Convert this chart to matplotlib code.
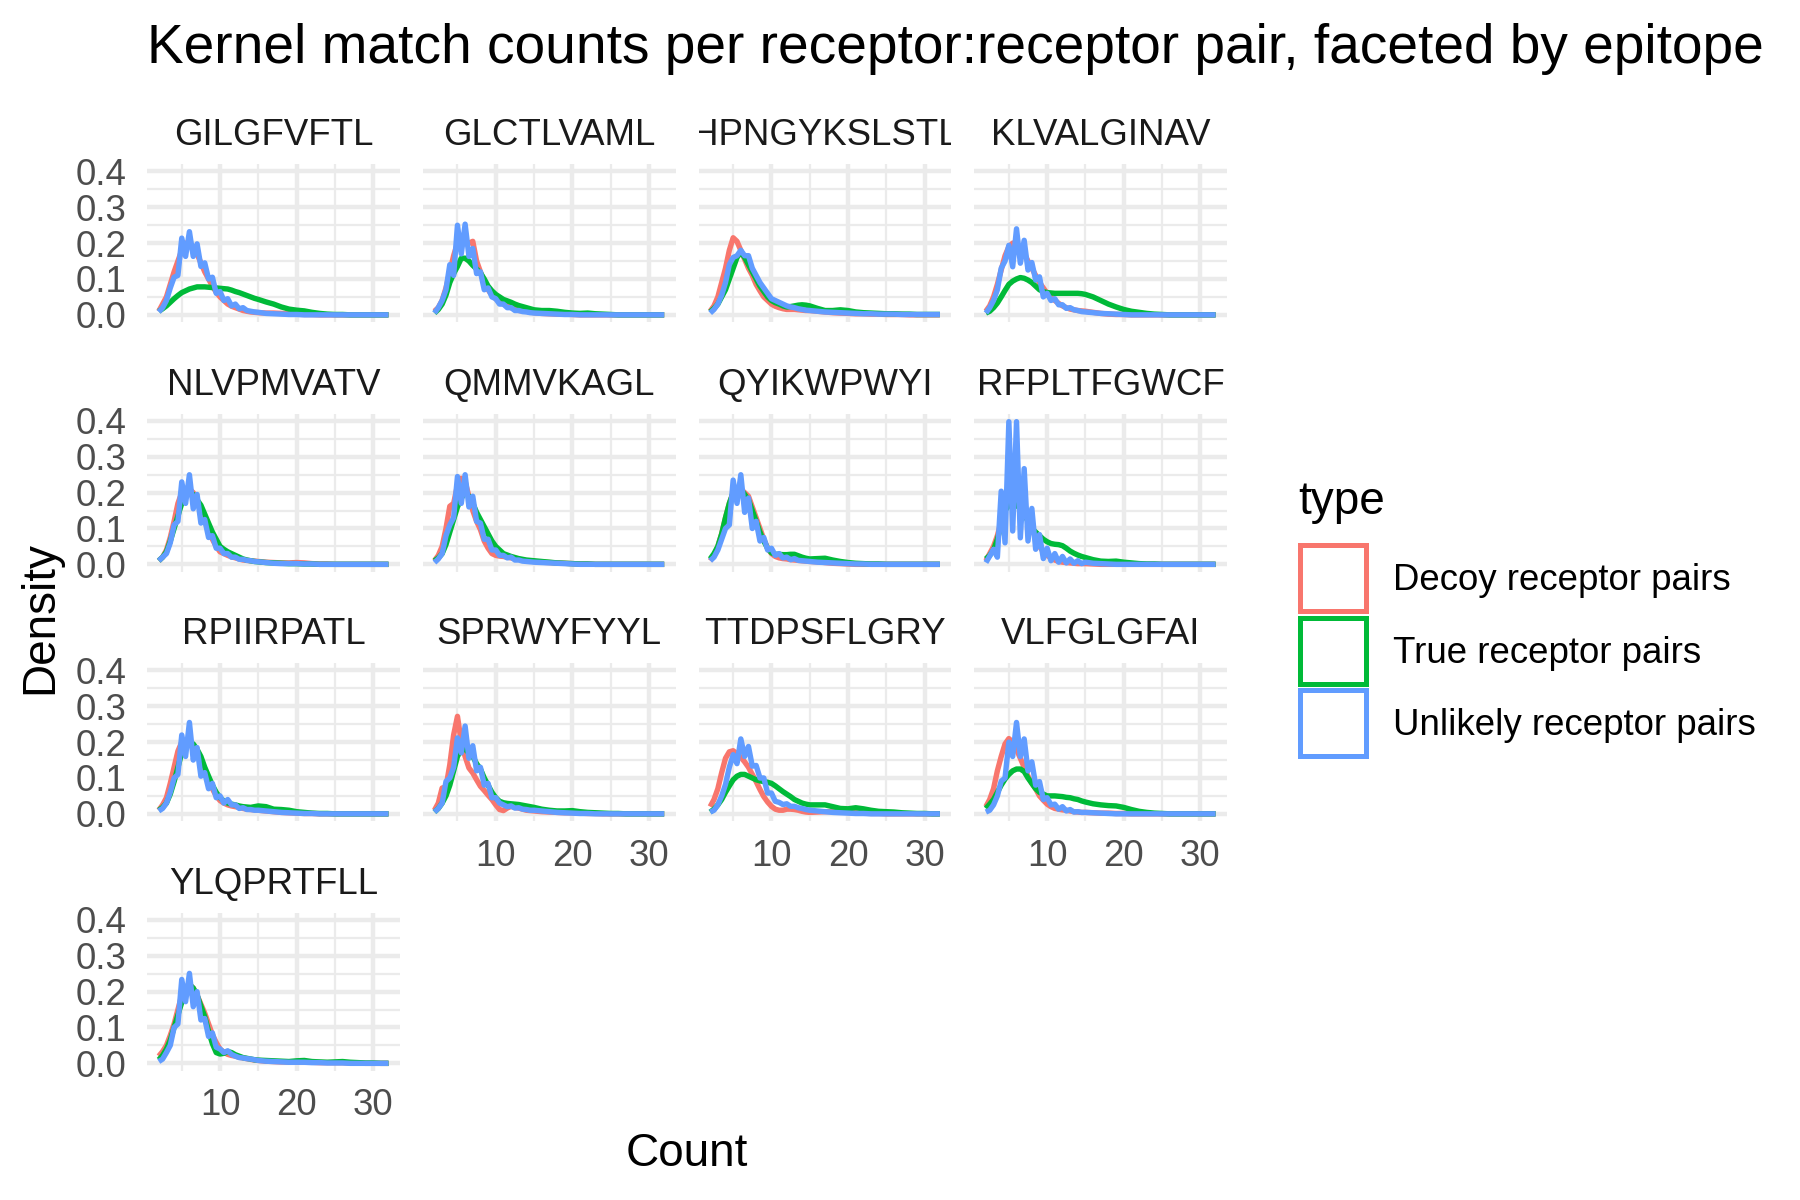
import matplotlib
matplotlib.use("Agg")
import matplotlib.pyplot as plt
from matplotlib.patches import Rectangle

plt.rcParams['font.family'] = ['Liberation Sans', 'DejaVu Sans']

# ---------------- data ----------------
EPITOPES = ["GILGFVFTL", "GLCTLVAML", "HPNGYKSLSTL", "KLVALGINAV",
            "NLVPMVATV", "QMMVKAGL", "QYIKWPWYI", "RFPLTFGWCF",
            "RPIIRPATL", "SPRWYFYYL", "TTDPSFLGRY", "VLFGLGFAI",
            "YLQPRTFLL"]
TYPES = ["Decoy receptor pairs", "True receptor pairs", "Unlikely receptor pairs"]
COLORS = ["#F8766D", "#00BA38", "#619CFF"]

COUNT_GRID = [2, 2.5, 3, 3.5, 4, 4.5, 5, 5.5, 6, 6.5, 7, 7.5, 8, 8.5, 9, 9.5,
              10, 10.5, 11, 11.5, 12, 12.5, 13, 13.5, 14, 14.5, 15,
              16, 17, 18, 19, 20, 21, 22, 23, 24, 25, 26, 27, 28, 29, 30, 31, 32]

DECOY = {
    "GILGFVFTL": [.01, .03, .05, .085, .12, .15, .18, .2, .2, .19, .17, .145, .12, .1, .08, .063, .05, .04, .03, .024, .02, .016, .012, .01, .008, .007, .006,
                  .005, .005, .004, .003, .002, .001, .001, 0, 0, 0, 0, 0, 0, 0, 0, 0, 0],
    "GLCTLVAML": [.01, .02, .04, .075, .12, .165, .2, .205, .2, .2, .205, .15, .12, .09, .07, .055, .045, .037, .03, .025, .02, .016, .012, .011, .01, .008, .006,
                  .004, .003, .002, .002, .001, 0, 0, 0, 0, 0, 0, 0, 0, 0, 0, 0, 0],
    "HPNGYKSLSTL": [.01, .025, .05, .09, .13, .18, .215, .205, .18, .155, .13, .11, .085, .067, .05, .04, .03, .024, .02, .017, .015, .015, .015, .014, .013, .012, .012,
                    .01, .008, .006, .005, .004, .003, .003, .002, .002, .001, .001, .001, 0, 0, 0, 0, 0],
    "KLVALGINAV": [.01, .025, .05, .085, .125, .165, .19, .2, .2, .185, .17, .15, .13, .11, .09, .075, .06, .05, .04, .032, .025, .02, .016, .014, .012, .011, .01,
                   .007, .004, .002, .001, .001, 0, 0, 0, 0, 0, 0, 0, 0, 0, 0, 0, 0],
    "NLVPMVATV": [.01, .02, .04, .075, .12, .17, .2, .21, .21, .2, .18, .15, .12, .095, .07, .05, .035, .03, .025, .021, .018, .015, .012, .011, .01, .009, .008,
                  .006, .005, .004, .004, .005, .004, .002, .001, .001, 0, 0, 0, 0, 0, 0, 0, 0],
    "QMMVKAGL": [.01, .025, .05, .1, .162, .17, .22, .24, .23, .19, .15, .12, .097, .065, .045, .03, .025, .023, .022, .02, .018, .016, .014, .012, .01, .009, .008,
                 .006, .005, .004, .003, .002, .001, .001, 0, 0, 0, 0, 0, 0, 0, 0, 0, 0],
    "QYIKWPWYI": [.01, .025, .05, .085, .13, .17, .2, .21, .21, .2, .19, .16, .13, .1, .07, .045, .03, .022, .018, .016, .015, .013, .012, .011, .01, .009, .008,
                  .007, .005, .003, .002, .001, 0, 0, 0, 0, 0, 0, 0, 0, 0, 0, 0, 0],
    "RFPLTFGWCF": [.01, .03, .05, .08, .12, .17, .2, .205, .2, .18, .16, .13, .1, .075, .05, .035, .025, .018, .012, .008, .006, .005, .004, .003, .002, .002, .002,
                   .001, 0, 0, 0, 0, 0, 0, 0, 0, 0, 0, 0, 0, 0, 0, 0, 0],
    "RPIIRPATL": [.01, .025, .045, .085, .13, .175, .2, .205, .2, .19, .17, .145, .12, .095, .07, .05, .037, .03, .025, .022, .02, .018, .015, .013, .012, .011, .01,
                  .008, .006, .004, .003, .002, .001, .001, 0, 0, 0, 0, 0, 0, 0, 0, 0, 0],
    "SPRWYFYYL": [.01, .03, .072, .075, .137, .22, .272, .2, .16, .128, .114, .095, .077, .065, .052, .04, .025, .012, .009, .016, .021, .018, .016, .013, .01, .009, .008,
                  .006, .005, .004, .003, .003, .002, .001, .001, 0, 0, 0, 0, 0, 0, 0, 0, 0],
    "TTDPSFLGRY": [.02, .04, .07, .115, .155, .173, .176, .168, .158, .145, .13, .11, .09, .068, .048, .033, .021, .013, .01, .01, .013, .013, .012, .01, .007, .005, .004,
                   .005, .006, .006, .005, .004, .003, .002, .001, .001, 0, 0, 0, 0, 0, 0, 0, 0],
    "VLFGLGFAI": [.02, .04, .07, .12, .16, .195, .21, .2, .18, .155, .13, .105, .085, .07, .05, .038, .027, .02, .015, .013, .011, .01, .008, .006, .005, .004, .004,
                  .003, .002, .002, .001, .001, 0, 0, 0, 0, 0, 0, 0, 0, 0, 0, 0, 0],
    "YLQPRTFLL": [.02, .033, .05, .078, .11, .15, .19, .21, .22, .21, .19, .165, .14, .11, .08, .058, .04, .031, .025, .022, .02, .017, .015, .013, .011, .009, .008,
                  .006, .005, .004, .004, .004, .004, .003, .002, .002, .002, .002, .001, .001, 0, 0, 0, 0],
}

TRUE = {
    "GILGFVFTL": [.01, .017, .025, .035, .045, .054, .062, .067, .072, .075, .078, .078, .078, .077, .076, .075, .074, .073, .072, .069, .065, .062, .058, .054, .05, .046, .043,
                  .036, .03, .022, .016, .013, .011, .007, .004, .002, .001, .001, 0, 0, 0, 0, 0, 0],
    "GLCTLVAML": [.005, .015, .03, .055, .09, .115, .135, .158, .158, .15, .138, .128, .117, .1, .08, .067, .057, .05, .043, .039, .035, .03, .026, .023, .02, .017, .014,
                  .012, .012, .01, .007, .005, .004, .005, .003, .002, .001, 0, 0, 0, 0, 0, 0, 0],
    "HPNGYKSLSTL": [.008, .018, .03, .05, .07, .1, .13, .16, .175, .16, .14, .12, .1, .08, .065, .05, .04, .034, .03, .025, .022, .023, .025, .027, .028, .027, .025,
                    .018, .012, .012, .014, .012, .008, .006, .005, .004, .003, .003, .002, .002, .001, .001, .001, .001],
    "KLVALGINAV": [.005, .01, .02, .033, .05, .068, .085, .094, .1, .104, .102, .097, .09, .08, .07, .065, .062, .061, .06, .06, .06, .06, .06, .06, .06, .059, .057,
                   .05, .04, .03, .022, .015, .01, .007, .004, .002, .001, 0, 0, 0, 0, 0, 0, 0],
    "NLVPMVATV": [.01, .02, .035, .065, .1, .135, .17, .19, .2, .195, .18, .165, .14, .115, .09, .07, .05, .042, .035, .03, .025, .02, .015, .012, .01, .008, .007,
                  .005, .004, .003, .002, .002, .001, .001, 0, 0, 0, 0, 0, 0, 0, 0, 0, 0],
    "QMMVKAGL": [.01, .018, .03, .055, .09, .125, .16, .185, .2, .19, .17, .145, .125, .105, .085, .065, .05, .04, .03, .026, .022, .019, .016, .014, .012, .011, .01,
                 .008, .006, .004, .003, .002, .001, .001, 0, 0, 0, 0, 0, 0, 0, 0, 0, 0],
    "QYIKWPWYI": [.015, .03, .05, .085, .13, .17, .2, .21, .21, .195, .18, .15, .12, .09, .065, .045, .032, .028, .028, .027, .027, .028, .028, .024, .02, .017, .015,
                  .016, .017, .012, .008, .005, .003, .002, .001, .001, 0, 0, 0, 0, 0, 0, 0, 0],
    "RFPLTFGWCF": [.015, .025, .04, .07, .11, .15, .165, .17, .165, .155, .14, .12, .1, .09, .08, .07, .063, .058, .056, .055, .052, .045, .037, .031, .026, .022, .019,
                   .013, .009, .008, .009, .006, .004, .002, .001, .001, 0, 0, 0, 0, 0, 0, 0, 0],
    "RPIIRPATL": [.01, .018, .03, .055, .09, .13, .17, .19, .2, .195, .18, .16, .13, .105, .08, .06, .045, .036, .03, .027, .025, .022, .02, .019, .018, .02, .022,
                  .02, .013, .012, .01, .006, .004, .002, .001, .001, 0, 0, 0, 0, 0, 0, 0, 0],
    "SPRWYFYYL": [.005, .015, .03, .05, .08, .12, .16, .18, .18, .17, .16, .14, .125, .1, .08, .06, .045, .035, .031, .029, .028, .027, .026, .024, .022, .02, .018,
                  .013, .01, .008, .008, .009, .006, .004, .003, .002, .001, .001, 0, 0, 0, 0, 0, 0],
    "TTDPSFLGRY": [.005, .013, .025, .04, .06, .078, .095, .105, .11, .11, .105, .1, .095, .092, .09, .088, .085, .078, .07, .062, .055, .048, .04, .035, .03, .027, .025,
                   .025, .025, .02, .015, .014, .017, .014, .01, .007, .006, .005, .003, .002, .001, .001, 0, 0],
    "VLFGLGFAI": [.015, .027, .04, .06, .08, .097, .11, .12, .125, .125, .118, .1, .085, .07, .06, .055, .05, .05, .05, .049, .048, .046, .045, .042, .04, .036, .033,
                  .028, .025, .023, .022, .018, .012, .007, .004, .002, .001, 0, 0, 0, 0, 0, 0, 0],
    "YLQPRTFLL": [.01, .022, .04, .065, .1, .135, .17, .2, .22, .21, .19, .16, .13, .09, .055, .03, .026, .028, .033, .03, .024, .02, .016, .014, .012, .01, .009,
                  .008, .007, .006, .005, .007, .008, .005, .004, .003, .004, .005, .003, .002, .001, .001, 0, 0],
}

UNLIKELY = {
    "GILGFVFTL": [.008, .02, .04, .075, .105, .11, .214, .163, .232, .163, .198, .135, .145, .1, .105, .06, .065, .04, .045, .025, .03, .017, .02, .012, .01, .008, .007,
                  .004, .003, .002, .001, .001, 0, 0, 0, 0, 0, 0, 0, 0, 0, 0, 0, 0],
    "GLCTLVAML": [.005, .02, .04, .07, .14, .11, .25, .17, .253, .163, .185, .115, .12, .07, .075, .05, .045, .03, .03, .02, .02, .012, .012, .009, .008, .006, .005,
                  .004, .003, .002, .001, .001, 0, 0, 0, 0, 0, 0, 0, 0, 0, 0, 0, 0],
    "HPNGYKSLSTL": [.005, .015, .03, .055, .09, .14, .16, .165, .18, .165, .165, .13, .11, .09, .075, .06, .045, .04, .035, .03, .025, .022, .02, .017, .015, .013, .012,
                    .01, .008, .007, .006, .005, .004, .003, .003, .002, .002, .002, .001, .001, .001, .001, .001, .001],
    "KLVALGINAV": [.005, .02, .04, .07, .13, .15, .194, .134, .24, .144, .208, .125, .146, .097, .106, .05, .06, .04, .045, .028, .028, .018, .02, .014, .012, .009, .008,
                   .006, .004, .003, .002, .001, 0, 0, 0, 0, 0, 0, 0, 0, 0, 0, 0, 0],
    "NLVPMVATV": [.01, .02, .03, .06, .11, .12, .23, .17, .25, .155, .195, .115, .125, .075, .08, .045, .045, .03, .03, .02, .02, .014, .014, .011, .01, .008, .007,
                  .005, .003, .002, .002, .002, .001, .001, 0, 0, 0, 0, 0, 0, 0, 0, 0, 0],
    "QMMVKAGL": [.005, .015, .03, .08, .11, .13, .245, .17, .25, .16, .19, .12, .115, .07, .07, .04, .04, .025, .025, .018, .02, .012, .012, .009, .008, .007, .006,
                 .005, .004, .003, .002, .001, 0, 0, 0, 0, 0, 0, 0, 0, 0, 0, 0, 0],
    "QYIKWPWYI": [.01, .02, .04, .07, .1, .11, .235, .17, .25, .145, .185, .1, .12, .065, .075, .04, .045, .025, .03, .018, .02, .013, .016, .011, .01, .009, .008,
                  .006, .005, .004, .003, .002, .001, .001, 0, 0, 0, 0, 0, 0, 0, 0, 0, 0],
    "RFPLTFGWCF": [.005, .023, .042, .02, .204, .06, .398, .093, .398, .074, .267, .065, .156, .042, .083, .016, .045, .01, .03, .006, .022, .004, .015, .003, .01, .002, .006,
                   .003, .002, .001, 0, 0, 0, 0, 0, 0, 0, 0, 0, 0, 0, 0, 0, 0],
    "RPIIRPATL": [.008, .015, .03, .06, .1, .11, .22, .16, .255, .15, .185, .105, .115, .07, .085, .045, .05, .03, .04, .025, .025, .015, .017, .012, .012, .01, .01,
                  .008, .006, .004, .003, .002, .001, .001, 0, 0, 0, 0, 0, 0, 0, 0, 0, 0],
    "SPRWYFYYL": [.005, .015, .03, .09, .1, .13, .212, .17, .245, .155, .19, .12, .13, .08, .085, .045, .045, .03, .025, .02, .022, .016, .017, .013, .012, .01, .01,
                  .008, .006, .004, .003, .002, .001, .001, 0, 0, 0, 0, 0, 0, 0, 0, 0, 0],
    "TTDPSFLGRY": [.005, .01, .025, .05, .082, .13, .165, .14, .209, .16, .188, .133, .135, .1, .1, .058, .058, .035, .032, .026, .028, .021, .021, .017, .015, .012, .01,
                   .008, .006, .004, .003, .002, .001, .001, 0, 0, 0, 0, 0, 0, 0, 0, 0, 0],
    "VLFGLGFAI": [.005, .01, .025, .05, .091, .1, .2, .16, .255, .16, .209, .12, .145, .08, .09, .04, .045, .025, .027, .013, .02, .008, .012, .005, .006, .004, .004,
                  .003, .002, .001, 0, 0, 0, 0, 0, 0, 0, 0, 0, 0, 0, 0, 0, 0],
    "YLQPRTFLL": [.005, .012, .03, .05, .1, .11, .234, .172, .251, .158, .2, .121, .125, .075, .085, .045, .04, .03, .035, .025, .02, .016, .015, .013, .012, .01, .008,
                  .006, .005, .004, .003, .003, .003, .002, .002, .001, .001, .001, 0, 0, 0, 0, 0, 0],
}

X_TICKS = [10, 20, 30]
X_MINOR = [5, 15, 25]
Y_TICKS = [0.0, 0.1, 0.2, 0.3, 0.4]
Y_TICK_LABELS = ["0.0", "0.1", "0.2", "0.3", "0.4"]
Y_MINOR = [0.05, 0.15, 0.25, 0.35]

TITLE = "Kernel match counts per receptor:receptor pair, faceted by epitope"
X_LABEL = "Count"
Y_LABEL = "Density"
LEGEND_TITLE = "type"

SERIES = [DECOY, TRUE, UNLIKELY]

# ---------------- layout ----------------
W, H = 1800.0, 1200.0
fig = plt.figure(figsize=(6, 4), dpi=300)
fig.patch.set_facecolor("white")


def frect(left, top, w, h):
    return [left / W, 1 - (top + h) / H, w / W, h / H]


COL_LEFT = [147.3, 423.0, 698.7, 974.4]
PW = 252.7
ROW_TOP = [164.3, 413.8, 663.3, 912.8]
PH = 157.7
STRIP_H = 64.0

GRID_C = "#EBEBEB"
LINE_W = 1.3

for i, ep in enumerate(EPITOPES):
    r, c = divmod(i, 4)
    ax = fig.add_axes(frect(COL_LEFT[c], ROW_TOP[r], PW, PH))
    for s_idx, series in enumerate(SERIES):
        ax.plot(COUNT_GRID, series[ep], color=COLORS[s_idx], lw=LINE_W,
                solid_joinstyle="round", solid_capstyle="butt", zorder=3 + s_idx)
    ax.set_xlim(0.5, 33.5)
    ax.set_ylim(-0.02, 0.42)
    ax.set_xticks(X_TICKS)
    ax.set_xticks(X_MINOR, minor=True)
    ax.set_yticks(Y_TICKS)
    ax.set_yticklabels(Y_TICK_LABELS)
    ax.set_yticks(Y_MINOR, minor=True)
    ax.grid(which="major", color=GRID_C, lw=1.07)
    ax.grid(which="minor", color=GRID_C, lw=0.53)
    ax.set_axisbelow(True)
    for sp in ax.spines.values():
        sp.set_visible(False)
    bottom = (r == 3) or (r == 2 and c > 0)
    ax.tick_params(which="both", length=0, labelsize=8.8, labelcolor="#4D4D4D")
    ax.tick_params(axis="x", pad=4.3, labelbottom=bottom)
    ax.tick_params(axis="y", pad=5.0, labelleft=(c == 0))

    # strip
    sax = fig.add_axes(frect(COL_LEFT[c], ROW_TOP[r] - STRIP_H, PW, STRIP_H))
    sax.axis("off")
    sax.set_xlim(0, 1)
    sax.set_ylim(0, 1)
    sax.text(0.5, 19.0 / STRIP_H, ep, ha="center", va="baseline", fontsize=8.8,
             color="#1A1A1A", clip_on=True)

# title
fig.text(147.3 / W, 1 - 63.0 / H, TITLE, ha="left", va="baseline", fontsize=13.2,
         color="black")
# axis titles
fig.text(687.0 / W, 1 - 1166.0 / H, X_LABEL, ha="center", va="baseline", fontsize=11,
         color="black")
fig.text(40.0 / W, 1 - 617.0 / H, Y_LABEL, ha="center", va="center", rotation=90,
         fontsize=11, color="black")

# legend
fig.text(1298.0 / W, 1 - 514.0 / H, LEGEND_TITLE, ha="left", va="baseline",
         fontsize=11, color="black")
KEY_CENTERS = [578.0, 650.5, 722.5]
KEY_SIZE = 66.0
for k, (lab, col) in enumerate(zip(TYPES, COLORS)):
    cy = KEY_CENTERS[k]
    rect = Rectangle((1299.5 / W, 1 - (cy + KEY_SIZE / 2) / H), KEY_SIZE / W, KEY_SIZE / H,
                     transform=fig.transFigure, fill=False, edgecolor=col, lw=1.2,
                     joinstyle="miter")
    fig.patches.append(rect)
    fig.text(1393.0 / W, 1 - (cy + 12.5) / H, lab, ha="left", va="baseline", fontsize=8.8,
             color="black")

fig.savefig("out.png", dpi=300, facecolor="white")
